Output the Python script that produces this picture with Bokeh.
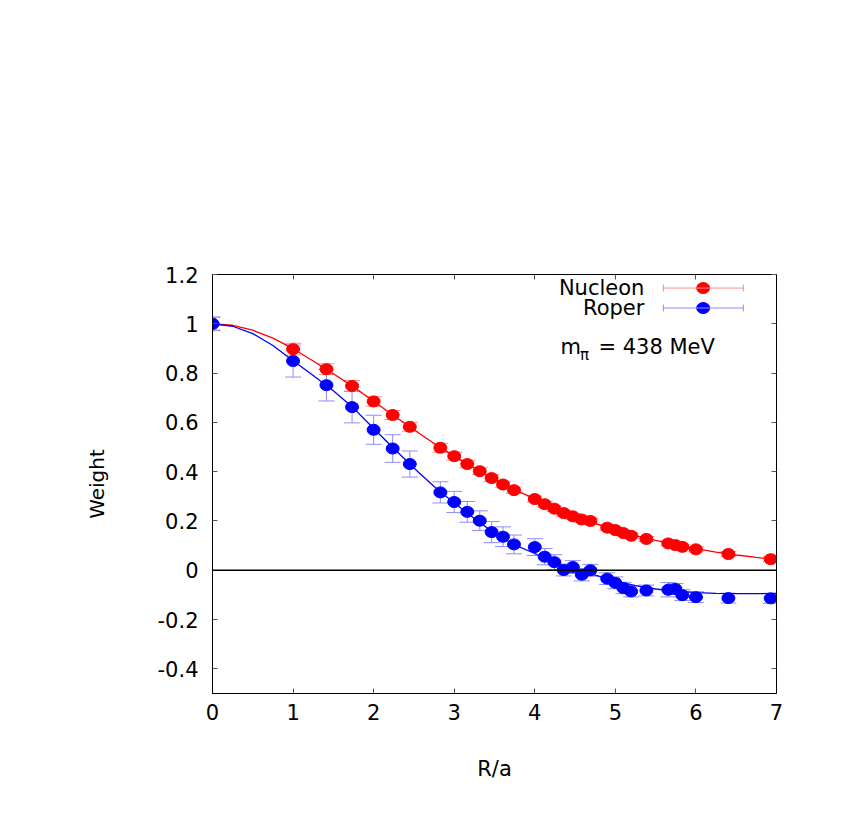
from bokeh.plotting import figure
from bokeh.models import (ColumnDataSource, Whisker, TeeHead, Span, Label,
                          LinearAxis, FixedTicker, Range1d, Arrow)
from bokeh.embed import file_html
from bokeh.resources import INLINE

# ---------------- data ----------------
r_sep = [0.0, 1.0, 1.414, 1.732, 2.0, 2.236, 2.449, 2.828, 3.0, 3.162, 3.317,
         3.464, 3.606, 3.742, 4.0, 4.123, 4.243, 4.359, 4.472, 4.583, 4.690,
         4.899, 5.0, 5.099, 5.196, 5.385, 5.657, 5.745, 5.831, 6.0, 6.403, 6.928]

nucleon_w = [1.0, 0.897, 0.816, 0.748, 0.685, 0.630, 0.582, 0.497, 0.463, 0.431,
             0.402, 0.374, 0.348, 0.325, 0.289, 0.268, 0.250, 0.232, 0.219, 0.206,
             0.200, 0.173, 0.163, 0.151, 0.140, 0.127, 0.109, 0.102, 0.095, 0.085,
             0.066, 0.045]
nucleon_err = [0.025, 0.024, 0.022, 0.022, 0.019, 0.018, 0.018, 0.018, 0.016, 0.015,
               0.014, 0.014, 0.013, 0.013, 0.012, 0.012, 0.012, 0.012, 0.011, 0.011,
               0.011, 0.011, 0.011, 0.011, 0.010, 0.010, 0.010, 0.010, 0.010, 0.010,
               0.010, 0.010]

roper_w = [1.0, 0.849, 0.751, 0.662, 0.570, 0.494, 0.431, 0.316, 0.277, 0.237,
           0.201, 0.155, 0.136, 0.105, 0.094, 0.055, 0.033, 0.001, 0.013, -0.018,
           0.0, -0.034, -0.051, -0.072, -0.086, -0.082, -0.079, -0.076, -0.101,
           -0.109, -0.113, -0.114]
roper_err = [0.028, 0.065, 0.064, 0.064, 0.059, 0.056, 0.053, 0.043, 0.043, 0.042,
             0.040, 0.043, 0.040, 0.038, 0.034, 0.033, 0.030, 0.024, 0.026, 0.025,
             0.024, 0.024, 0.024, 0.023, 0.022, 0.022, 0.029, 0.022, 0.022, 0.022,
             0.020, 0.020]

fit_r = [0.0, 0.25, 0.5, 0.75, 1.0, 1.25, 1.5, 1.75, 2.0, 2.25, 2.5, 2.75, 3.0,
         3.25, 3.5, 3.75, 4.0, 4.25, 4.5, 4.75, 5.0, 5.25, 5.5, 5.75, 6.0, 6.25,
         6.5, 6.75, 7.0]
fit_nucleon = [1.0, 0.994, 0.974, 0.942, 0.899, 0.849, 0.797, 0.744, 0.686, 0.627,
               0.570, 0.514, 0.463, 0.415, 0.369, 0.327, 0.290, 0.251, 0.217, 0.189,
               0.164, 0.141, 0.121, 0.104, 0.088, 0.074, 0.062, 0.052, 0.043]
fit_roper = [1.0, 0.990, 0.960, 0.912, 0.850, 0.790, 0.728, 0.658, 0.575, 0.494,
             0.415, 0.340, 0.273, 0.210, 0.150, 0.103, 0.068, 0.030, 0.003, -0.020,
             -0.043, -0.062, -0.076, -0.085, -0.091, -0.094, -0.095, -0.095, -0.094]

x_ticks = [0, 1, 2, 3, 4, 5, 6, 7]
x_tick_labels = ["0", "1", "2", "3", "4", "5", "6", "7"]
y_ticks = [-0.4, -0.2, 0.0, 0.2, 0.4, 0.6, 0.8, 1.0, 1.2]
y_tick_labels = ["-0.4", "-0.2", "0", "0.2", "0.4", "0.6", "0.8", "1", "1.2"]

series_names = ["Nucleon", "Roper"]
mass_label = "438 MeV"

FONT = "DejaVu Sans"
FS = "21px"

# ---------------- figure ----------------
p = figure(width=840, height=810, output_backend="svg", toolbar_location=None,
           x_range=Range1d(0, 7), y_range=Range1d(-0.5, 1.2))
p.min_border_left = 212
p.min_border_right = 64
p.min_border_top = 274
p.min_border_bottom = 117
p.background_fill_color = "white"
p.border_fill_color = "white"
p.outline_line_color = "black"
p.outline_line_width = 1
p.xgrid.visible = False
p.ygrid.visible = False

def style_axis(ax, ticks, labels, show_labels=True):
    ax.ticker = FixedTicker(ticks=ticks)
    ax.major_label_overrides = {t: l for t, l in zip(ticks, labels)}
    ax.major_tick_in = 5
    ax.major_tick_out = 0
    ax.minor_tick_in = 0
    ax.minor_tick_out = 0
    ax.major_tick_line_color = "#555555"
    ax.axis_line_color = "black"
    ax.major_label_text_font = FONT
    ax.major_label_text_font_size = FS
    ax.major_label_text_color = "black" if show_labels else None

style_axis(p.xaxis[0], x_ticks, x_tick_labels)
style_axis(p.yaxis[0], y_ticks, y_tick_labels)
p.xaxis[0].major_label_standoff = 10
p.yaxis[0].major_label_standoff = 14

p.xaxis[0].axis_label = "R/a"
p.xaxis[0].axis_label_text_font = FONT
p.xaxis[0].axis_label_text_font_size = FS
p.xaxis[0].axis_label_text_font_style = "normal"
p.xaxis[0].axis_label_text_color = "black"
p.xaxis[0].axis_label_standoff = 34

p.yaxis[0].axis_label = "Weight"
p.yaxis[0].axis_label_text_font = FONT
p.yaxis[0].axis_label_text_font_size = "20px"
p.yaxis[0].axis_label_text_font_style = "normal"
p.yaxis[0].axis_label_text_color = "black"
p.yaxis[0].axis_label_standoff = 46

top_ax = LinearAxis()
style_axis(top_ax, x_ticks, x_tick_labels, show_labels=False)
p.add_layout(top_ax, "above")
right_ax = LinearAxis()
style_axis(right_ax, y_ticks, y_tick_labels, show_labels=False)
p.add_layout(right_ax, "right")

# zero line
p.add_layout(Span(location=0, dimension="width", line_color="black", line_width=1.3))

# ---------------- series ----------------
def draw_series(w, err, fit, color, err_color):
    up = [a + e for a, e in zip(w, err)]
    lo = [a - e for a, e in zip(w, err)]
    src = ColumnDataSource(dict(x=r_sep, y=w, upper=up, lower=lo))
    wk = Whisker(base="x", upper="upper", lower="lower", source=src,
                 line_color=err_color, line_width=1,
                 upper_head=TeeHead(size=16, line_color=err_color, line_width=1),
                 lower_head=TeeHead(size=16, line_color=err_color, line_width=1))
    p.add_layout(wk)
    p.line(fit_r, fit, line_color=color, line_width=1.3)
    p.ellipse(x="x", y="y", width=13, height=11, width_units="screen",
              height_units="screen", fill_color=color, line_color=color, source=src)

draw_series(nucleon_w, nucleon_err, fit_nucleon, "#ff0000", "#ff8c8c")
draw_series(roper_w, roper_err, fit_roper, "#0000ff", "#8c8cff")

# ---------------- legend (gnuplot style) ----------------
leg_y = [1.145, 1.064]
leg_colors = ["#ff0000", "#0000ff"]
leg_err_colors = ["#ff8c8c", "#8c8cff"]
for name, yy, c, ec in zip(series_names, leg_y, leg_colors, leg_err_colors):
    p.add_layout(Label(x=5.36, y=yy, text=name, text_align="right",
                       text_baseline="middle", text_font=FONT,
                       text_font_size=FS, text_color="black"))
    p.add_layout(Arrow(x_start=5.596, y_start=yy, x_end=6.588, y_end=yy,
                       line_color=ec, line_width=1,
                       start=TeeHead(size=7, line_color=ec, line_width=1),
                       end=TeeHead(size=7, line_color=ec, line_width=1)))
    p.ellipse(x=[6.09], y=[yy], width=13, height=11, width_units="screen",
              height_units="screen", fill_color=c, line_color=c)

# m_pi annotation
p.add_layout(Label(x=4.318, y=0.905, text="m", text_align="left",
                   text_baseline="middle", text_font=FONT, text_font_size=FS,
                   text_color="black"))
p.add_layout(Label(x=4.56, y=0.872, text="π", text_align="left",
                   text_baseline="middle", text_font=FONT, text_font_size="15px",
                   text_color="black"))
p.add_layout(Label(x=4.79, y=0.905, text="= " + mass_label, text_align="left",
                   text_baseline="middle", text_font=FONT, text_font_size=FS,
                   text_color="black"))

open("out.html", "w").write(file_html(p, INLINE))
